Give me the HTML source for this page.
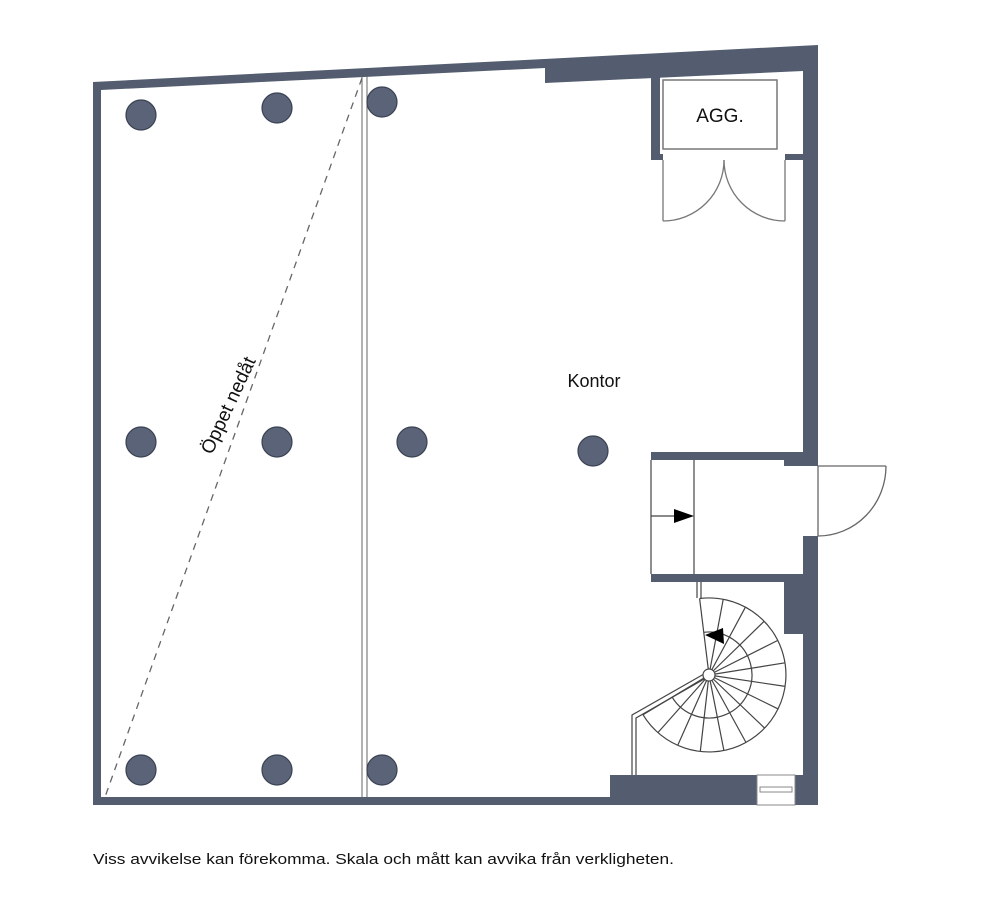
<!DOCTYPE html>
<html><head><meta charset="utf-8"><style>
html,body{margin:0;padding:0;background:#fff;}
svg{display:block;}
text{font-family:"Liberation Sans",Arial,sans-serif;fill:#111;}
</style></head><body>
<svg width="981" height="915" viewBox="0 0 981 915" xmlns="http://www.w3.org/2000/svg">
<polygon points="93,82 818,45 818,805 93,805" fill="#535d6f"/>
<polygon points="101,90 545,68 545,83 803,71 803,452 651,452 651,582 784,582 784,634 803,634 803,775 610,775 610,797 101,797" fill="#fff"/>
<rect x="651" y="460" width="152" height="114" fill="#fff"/>
<rect x="784" y="460" width="34" height="6" fill="#535d6f"/>
<rect x="803" y="466" width="15" height="70" fill="#fff"/>
<rect x="651" y="74" width="9" height="86" fill="#535d6f"/>
<rect x="651" y="154" width="12" height="6" fill="#535d6f"/>
<rect x="785" y="154" width="18" height="6" fill="#535d6f"/>
<rect x="663" y="80" width="114" height="69" fill="#fff" stroke="#777" stroke-width="1.5"/>
<text x="720" y="122" font-size="19" text-anchor="middle">AGG.</text>
<g fill="none" stroke="#777" stroke-width="1.3">
<line x1="663" y1="160" x2="663" y2="221"/>
<line x1="785" y1="160" x2="785" y2="221"/>
<path d="M663,221 A61,61 0 0 0 724,160"/>
<path d="M785,221 A61,61 0 0 1 724,160"/>
</g>
<rect x="757" y="775" width="38" height="30" fill="#fff" stroke="#888" stroke-width="1"/>
<rect x="760" y="787" width="32" height="5" fill="none" stroke="#888" stroke-width="1"/>
<g stroke="#444" stroke-width="1.2" fill="none">
<line x1="651" y1="460" x2="651" y2="574"/>
<line x1="694" y1="460" x2="694" y2="574"/>
<line x1="651" y1="516" x2="674" y2="516"/>
</g>
<polygon points="674,509 694,516 674,523" fill="#000"/>
<g stroke="#666" stroke-width="1.3" fill="none">
<line x1="818" y1="466" x2="886" y2="466"/>
<line x1="818" y1="466" x2="818" y2="536"/>
<path d="M886,466 A68,70 0 0 1 818,536"/>
</g>
<line x1="362" y1="76" x2="362" y2="797" stroke="#666" stroke-width="1"/>
<line x1="367" y1="76" x2="367" y2="797" stroke="#666" stroke-width="1"/>
<line x1="362" y1="78" x2="105" y2="797" stroke="#666" stroke-width="1.3" stroke-dasharray="7,6"/>
<text transform="translate(234,408) rotate(-65)" font-size="19" text-anchor="middle">Öppet nedåt</text>
<text x="594" y="387" font-size="18" text-anchor="middle">Kontor</text>
<g fill="#5a6378" stroke="#3a4252" stroke-width="1.2">
<circle cx="141" cy="115" r="15"/><circle cx="277" cy="108" r="15"/><circle cx="382" cy="102" r="15"/>
<circle cx="141" cy="442" r="15"/><circle cx="277" cy="442" r="15"/><circle cx="412" cy="442" r="15"/>
<circle cx="593" cy="451" r="15"/>
<circle cx="141" cy="770" r="15"/><circle cx="277" cy="770" r="15"/><circle cx="382" cy="770" r="15"/>
</g>
<g stroke="#444" stroke-width="1.2" fill="none">
<line x1="697" y1="582" x2="697" y2="598"/><line x1="701" y1="582" x2="701" y2="598"/>
<path d="M699.6,598.5 A77,77 0 1 1 643,714.7"/>
<path d="M703.8,632.3 A43,43 0 1 1 672.1,697.1"/>
<line x1="709" y1="675" x2="699.6" y2="598.5"/>
<line x1="709" y1="675" x2="723.2" y2="599.3"/>
<line x1="709" y1="675" x2="745.4" y2="607.2"/>
<line x1="709" y1="675" x2="764.1" y2="621.3"/>
<line x1="709" y1="675" x2="777.8" y2="640.4"/>
<line x1="709" y1="675" x2="785" y2="662.8"/>
<line x1="709" y1="675" x2="785.2" y2="686.4"/>
<line x1="709" y1="675" x2="778.1" y2="708.9"/>
<line x1="709" y1="675" x2="764.7" y2="728.2"/>
<line x1="709" y1="675" x2="746" y2="742.5"/>
<line x1="709" y1="675" x2="723.9" y2="750.5"/>
<line x1="709" y1="675" x2="700.3" y2="751.5"/>
<line x1="709" y1="675" x2="677.7" y2="745.4"/>
<line x1="709" y1="675" x2="657.9" y2="732.6"/>
<line x1="709" y1="675" x2="643" y2="714.7"/>
<polyline points="704,674 632,715 632,775"/>
<polyline points="706,678 636,718 636,775"/>
</g>
<circle cx="709" cy="675" r="6" fill="#fff" stroke="#444" stroke-width="1.2"/>
<polygon points="705,635 723,628 724,644" fill="#000"/>
<text x="93" y="864" font-size="15" textLength="581" lengthAdjust="spacingAndGlyphs">Viss avvikelse kan förekomma. Skala och mått kan avvika från verkligheten.</text>
</svg>
</body></html>
